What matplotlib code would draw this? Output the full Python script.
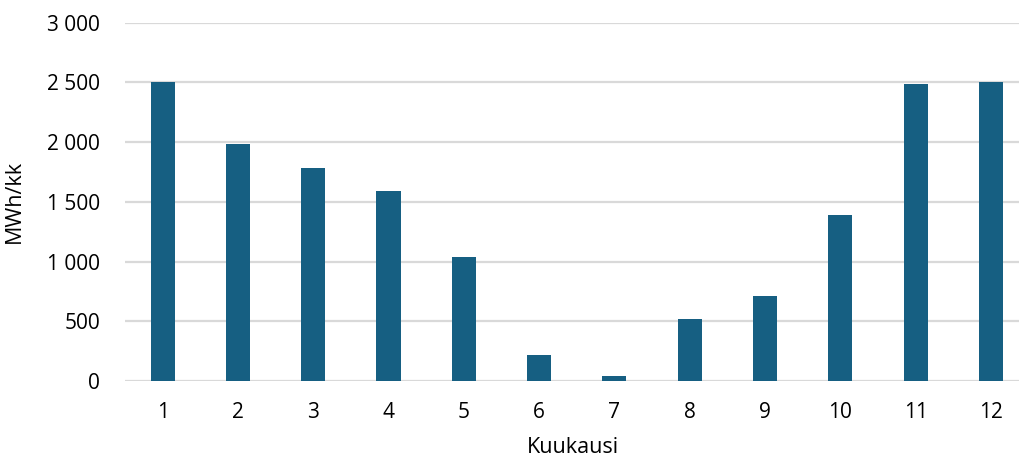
import matplotlib.pyplot as plt
from matplotlib.ticker import FuncFormatter

# Monthly energy (MWh per month)
months = ['1', '2', '3', '4', '5', '6', '7', '8', '9', '10', '11', '12']
energy = [2500, 1985, 1784, 1591, 1038, 218, 42, 519, 712, 1390, 2485, 2500]

plt.rcParams['font.family'] = ['Open Sans', 'DejaVu Sans']

W, H = 1020, 461
fig = plt.figure(figsize=(W / 100, H / 100), dpi=100)
ax = fig.add_axes([125 / W, 80 / H, (W - 125) / W, 358.3 / H])

x = range(1, len(months) + 1)
ax.bar(x, energy, width=0.32, color='#165f82', zorder=3)

ax.set_ylim(0, 3000)
ax.set_xlim(0.5, 12.386)
ax.set_yticks(range(0, 3001, 500))
ax.yaxis.set_major_formatter(FuncFormatter(lambda v, p: f'{int(v):,}'.replace(',', ' ')))
ax.set_xticks(list(x))
ax.set_xticklabels(months)

ax.grid(axis='y', color='#d9d9d9', linewidth=1.6, zorder=0)
for s in ax.spines.values():
    s.set_visible(False)
ax.tick_params(axis='both', length=0, labelsize=15, colors='#000000')
ax.tick_params(axis='y', pad=18)
ax.tick_params(axis='x', pad=15)

ax.set_ylabel('MWh/kk', fontsize=15.5, labelpad=16)
ax.set_xlabel('Kuukausi', fontsize=15.5, labelpad=10)

fig.savefig('out.png', dpi=100)
